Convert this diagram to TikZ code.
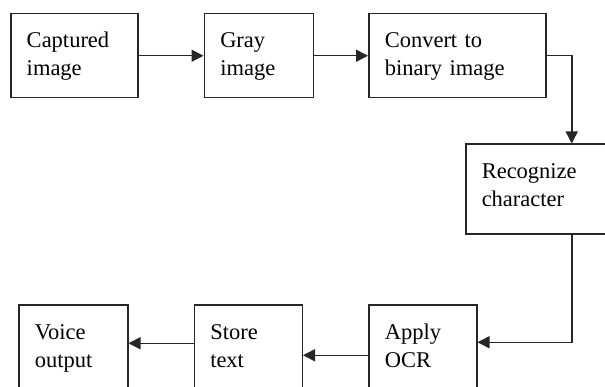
\documentclass[tikz,border=0pt]{standalone}
\usepackage{fontspec}
\setmainfont{Liberation Serif}
\usetikzlibrary{positioning,arrows.meta}
\tikzstyle{block} = [rectangle,
                    align=left,
                    draw=black!85,
                    line width=1.5pt,
                    inner xsep=16pt,
                    inner ysep=16pt,
                    text height=18pt,
                    text depth=34pt,
                    font=\fontsize{22.5}{28}\selectfont]

\begin{document}
\begin{tikzpicture}[x=1pt, y=1pt,
                      >={Triangle[length=12pt,width=12pt]},
                      line width=1.5pt,
                      draw=black!85]
    \useasboundingbox (0,0) rectangle (605,-387);
    \node (cap) [block, text width=95pt, anchor=north west] at (10,-13) {Captured\\image};
    \node (gray) [right =65pt of cap] [block, text width=77pt] {Gray\\image};
    \node (bin) [right =54pt of gray] [block, text width=145pt] {Convert to\\binary image};
    \node (rec) [below =45pt of bin.south west, anchor=north west, xshift=97pt] [block, text width=180pt, text depth=40pt] {Recognize\\character};
    \node (ocr) [below =206pt of bin.south west, anchor=north west] [block, text width=76pt, text depth=50pt] {Apply\\OCR};
    \node (store) [left =65pt of ocr] [block, text width=76pt, text depth=50pt] {Store\\text};
    \node (voice) [left =65pt of store] [block, text width=77pt, text depth=50pt] {Voice\\output};
    \draw[->] (cap) -- (gray);
    \draw[->] (gray) -- (bin);
    \draw[->] (bin.east) -| (rec.north);
    \draw[->] (rec.south) |- ([yshift=13pt]ocr.east);
    \draw[->] (ocr) -- (store);
    \draw[->] ([yshift=12pt]store.west) -- ([yshift=12pt]voice.east);
  \end{tikzpicture}
\end{document}
